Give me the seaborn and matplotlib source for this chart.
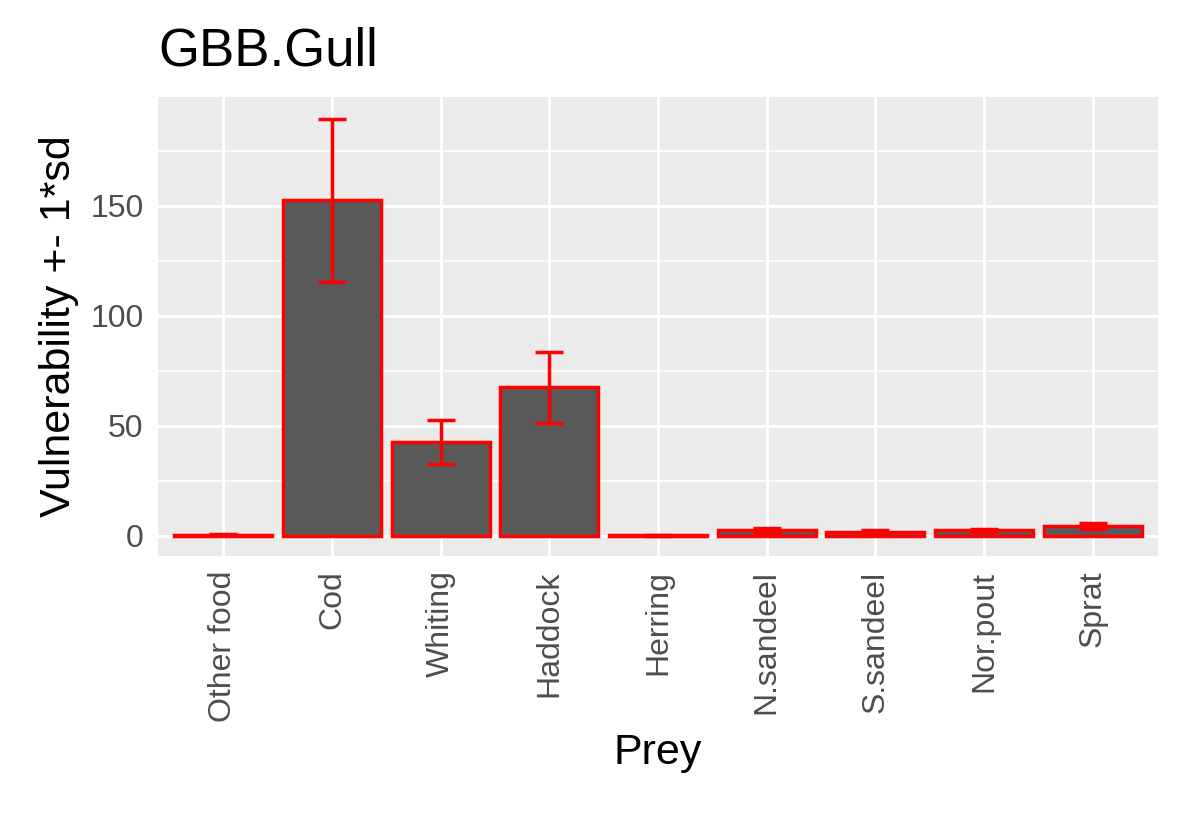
import matplotlib
matplotlib.use("Agg")
import matplotlib.pyplot as plt
import seaborn as sns
import pandas as pd

prey = ["Other food", "Cod", "Whiting", "Haddock", "Herring", "N.sandeel", "S.sandeel", "Nor.pout", "Sprat"]
vuln = [0.5, 152.5, 42.5, 67.5, 0.3, 2.5, 2.0, 2.5, 4.5]
sd = [0.2, 37, 10, 16, 0.1, 1.0, 0.6, 0.8, 1.2]

sns.set_theme(style="darkgrid", rc={"axes.facecolor": "#EBEBEB", "grid.color": "white"})
plt.rcParams['font.family'] = ['Liberation Sans', 'DejaVu Sans']

df = pd.DataFrame({"Prey": prey, "v": vuln})
fig = plt.figure(figsize=(11.81, 8.26), dpi=100)
ax = fig.add_axes([158/1181, 1-556/826, 1000/1181, 459/826])
sns.barplot(data=df, x="Prey", y="v", color="#595959", edgecolor="red", linewidth=2.5,
            width=0.9, saturation=1, ax=ax, errorbar=None)
ax.errorbar(range(len(prey)), vuln, yerr=sd, fmt="none", ecolor="red", elinewidth=2.5,
            capsize=10, capthick=2.5, zorder=5)
ax.set_ylim(-9.1, 199.5)
ax.set_xlim(-0.6, 8.6)
ax.set_yticks([0, 50, 100, 150])
ax.set_yticks([25, 75, 125, 175], minor=True)
ax.grid(True, which="major", color="white", linewidth=2.2)
ax.grid(True, which="minor", axis="y", color="white", linewidth=1.1)
ax.set_axisbelow(True)
for s in ax.spines.values():
    s.set_visible(False)
ax.tick_params(axis="both", which="major", length=7, width=2, color="#333333", labelsize=23, labelcolor="#4D4D4D")
ax.tick_params(axis="y", which="minor", length=0)
ax.tick_params(axis="x", rotation=90)
ax.set_xlabel("Prey", fontsize=31, labelpad=8, color="black")
ax.set_ylabel("Vulnerability +- 1*sd", fontsize=31, labelpad=8, color="black")
fig.text(158/1181, 1-65/826, "GBB.Gull", fontsize=38, ha="left", va="baseline", color="black")
fig.savefig("out.png", dpi=100)
